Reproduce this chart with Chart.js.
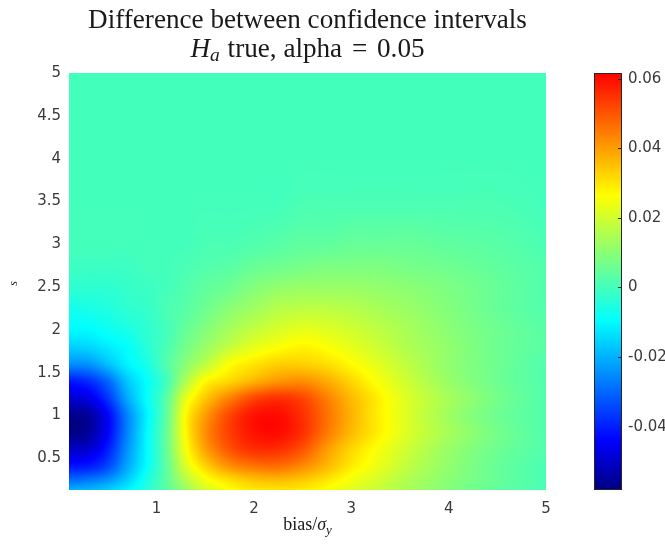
<!DOCTYPE html>
<html>
<head>
<meta charset="utf-8">
<script src="https://cdn.jsdelivr.net/npm/chart.js@4"></script>
<style>
  html, body { margin: 0; padding: 0; background: #fff; }
  #wrap { width: 665px; height: 544px; position: relative; }
</style>
</head>
<body>
<div id="wrap"><canvas id="chart"></canvas></div>
<script>
// grid columns (bias / sigma_y) and rows (s)
const biasValues = [0.1, 0.3, 0.5, 0.7, 0.9, 1.1, 1.3, 1.5, 1.75, 2.0, 2.25, 2.5, 2.75, 3.0, 3.3, 3.6, 4.0, 4.5, 5.0];
const sValues = [0.13, 0.25, 0.4, 0.6, 0.8, 1.0, 1.2, 1.4, 1.6, 1.8, 2.0, 2.25, 2.5, 2.75, 3.0, 3.5, 4.0, 5.0];

// difference between the intervals, one row per s value (bottom to top)
const diffRows = [
  [-0.020,-0.019,-0.016,-0.011,-0.004,0.003,0.012,0.020,0.026,0.029,0.030,0.029,0.026,0.022,0.018,0.014,0.009,0.004,0.001],
  [-0.030,-0.028,-0.024,-0.016,-0.006,0.004,0.016,0.025,0.031,0.035,0.036,0.034,0.030,0.025,0.020,0.015,0.010,0.005,0.001],
  [-0.041,-0.040,-0.034,-0.021,-0.009,0.004,0.021,0.032,0.041,0.045,0.046,0.042,0.036,0.029,0.023,0.017,0.011,0.005,0.001],
  [-0.050,-0.049,-0.040,-0.024,-0.010,0.005,0.025,0.039,0.050,0.055,0.055,0.050,0.040,0.032,0.025,0.019,0.012,0.006,0.002],
  [-0.058,-0.055,-0.044,-0.026,-0.010,0.005,0.027,0.042,0.053,0.059,0.060,0.055,0.045,0.036,0.028,0.021,0.014,0.007,0.002],
  [-0.057,-0.055,-0.044,-0.026,-0.011,0.004,0.027,0.040,0.052,0.059,0.060,0.055,0.046,0.037,0.028,0.021,0.013,0.006,0.002],
  [-0.049,-0.047,-0.037,-0.021,-0.009,0.003,0.023,0.034,0.044,0.052,0.055,0.052,0.044,0.036,0.028,0.021,0.014,0.007,0.002],
  [-0.041,-0.038,-0.030,-0.017,-0.009,0.000,0.015,0.027,0.032,0.037,0.041,0.042,0.038,0.032,0.025,0.019,0.012,0.006,0.002],
  [-0.025,-0.024,-0.018,-0.011,-0.006,0.002,0.010,0.017,0.026,0.030,0.033,0.033,0.031,0.027,0.022,0.017,0.011,0.006,0.002],
  [-0.016,-0.015,-0.012,-0.009,-0.004,0.001,0.007,0.012,0.018,0.023,0.026,0.028,0.026,0.023,0.019,0.015,0.011,0.006,0.003],
  [-0.010,-0.010,-0.008,-0.006,-0.003,0.000,0.005,0.009,0.014,0.018,0.021,0.023,0.022,0.020,0.017,0.014,0.010,0.006,0.003],
  [-0.007,-0.006,-0.005,-0.003,-0.002,0.001,0.003,0.006,0.010,0.013,0.016,0.017,0.017,0.016,0.014,0.012,0.009,0.005,0.002],
  [-0.003,-0.003,-0.003,-0.002,-0.001,0.000,0.002,0.004,0.006,0.009,0.011,0.012,0.012,0.012,0.011,0.010,0.008,0.005,0.002],
  [-0.001,-0.001,-0.001,-0.001,0.000,0.000,0.001,0.002,0.003,0.005,0.006,0.007,0.008,0.008,0.008,0.007,0.006,0.004,0.002],
  [0.000,0.000,0.000,0.000,0.000,0.000,0.000,0.001,0.001,0.002,0.003,0.004,0.004,0.005,0.005,0.005,0.004,0.003,0.001],
  [0.000,0.000,0.000,0.000,0.000,0.000,0.000,0.000,0.000,0.000,0.000,0.001,0.001,0.001,0.001,0.001,0.001,0.001,0.000],
  [0.000,0.000,0.000,0.000,0.000,0.000,0.000,0.000,0.000,0.000,0.000,0.000,0.000,0.000,0.000,0.000,0.000,0.000,0.000],
  [0.000,0.000,0.000,0.000,0.000,0.000,0.000,0.000,0.000,0.000,0.000,0.000,0.000,0.000,0.000,0.000,0.000,0.000,0.000]
];

const xTicks = [1, 2, 3, 4, 5];
const yTicks = [0.5, 1, 1.5, 2, 2.5, 3, 3.5, 4, 4.5, 5];
const colorTicks = [-0.04, -0.02, 0, 0.02, 0.04, 0.06];
const colorTickLabels = ['-0.04', '-0.02', '0', '0.02', '0.04', '0.06'];
const colorMin = -0.0582;
const colorMax = 0.0616;

// jet-like colour stops (value, rgb)
const colorStops = [
  [-0.0582, [0, 0, 130]],
  [-0.044, [0, 0, 255]],
  [-0.0095, [0, 255, 255]],
  [0.0265, [255, 255, 0]],
  [0.044, [255, 128, 0]],
  [0.0616, [255, 0, 0]]
];

function colorFor(v) {
  if (v <= colorStops[0][0]) return colorStops[0][1];
  for (let i = 1; i < colorStops.length; i++) {
    if (v <= colorStops[i][0]) {
      const [v0, c0] = colorStops[i - 1], [v1, c1] = colorStops[i];
      const t = (v - v0) / (v1 - v0);
      return [0, 1, 2].map(k => Math.round(c0[k] + (c1[k] - c0[k]) * t));
    }
  }
  return colorStops[colorStops.length - 1][1];
}

// smooth (cubic hermite) shading between grid values
function hermite(xs, vals, x) {
  const n = xs.length - 1;
  if (x <= xs[0]) return vals[0];
  if (x >= xs[n]) return vals[n];
  let i = 0;
  while (xs[i + 1] < x) i++;
  const slope = (k) => {
    if (k === 0) return (vals[1] - vals[0]) / (xs[1] - xs[0]);
    if (k === n) return (vals[n] - vals[n - 1]) / (xs[n] - xs[n - 1]);
    return (vals[k + 1] - vals[k - 1]) / (xs[k + 1] - xs[k - 1]);
  };
  const h = xs[i + 1] - xs[i];
  const t = (x - xs[i]) / h, t2 = t * t, t3 = t2 * t;
  return (2 * t3 - 3 * t2 + 1) * vals[i] + (t3 - 2 * t2 + t) * h * slope(i)
    + (-2 * t3 + 3 * t2) * vals[i + 1] + (t3 - t2) * h * slope(i + 1);
}

const heatmapPlugin = {
  id: 'heatmap',
  beforeDatasetsDraw(chart) {
    const { ctx, chartArea: a, scales: { x, y } } = chart;
    const w = Math.round(a.right - a.left), h = Math.round(a.bottom - a.top);
    const off = document.createElement('canvas');
    off.width = w; off.height = h;
    const octx = off.getContext('2d');
    const img = octx.createImageData(w, h);
    const rowVals = sValues.map(() => 0);
    for (let i = 0; i < w; i++) {
      const bv = x.getValueForPixel(a.left + i + 0.5);
      for (let r = 0; r < sValues.length; r++) rowVals[r] = hermite(biasValues, diffRows[r], bv);
      for (let j = 0; j < h; j++) {
        const sv = y.getValueForPixel(a.top + j + 0.5);
        const c = colorFor(hermite(sValues, rowVals, sv));
        const k = (j * w + i) * 4;
        img.data[k] = c[0]; img.data[k + 1] = c[1]; img.data[k + 2] = c[2]; img.data[k + 3] = 255;
      }
    }
    octx.putImageData(img, 0, 0);
    ctx.drawImage(off, a.left, a.top, a.right - a.left, a.bottom - a.top);
  }
};

const tickFont = { family: '"DejaVu Sans", sans-serif', size: 15 };
const tickColor = '#3a3a3a';

const colorbarPlugin = {
  id: 'colorbar',
  afterDraw(chart) {
    const { ctx, chartArea: a } = chart;
    const c = chart.scales.c;
    const left = a.right + 48, width = 27;
    for (let py = Math.floor(c.top); py < Math.ceil(c.bottom); py++) {
      const col = colorFor(c.getValueForPixel(py + 0.5));
      ctx.fillStyle = `rgb(${col[0]},${col[1]},${col[2]})`;
      ctx.fillRect(left, py, width, 1);
    }
    ctx.strokeStyle = '#262626';
    ctx.lineWidth = 1;
    ctx.strokeRect(left + 0.5, Math.round(c.top) + 0.5, width, Math.round(c.bottom - c.top) - 1);
    ctx.font = `${tickFont.size}px ${tickFont.family}`;
    ctx.fillStyle = tickColor;
    ctx.textAlign = 'left';
    ctx.textBaseline = 'middle';
    colorTicks.forEach((t, idx) => {
      const py = Math.round(c.getPixelForValue(t)) + 0.5;
      ctx.beginPath();
      ctx.moveTo(left + width - 3, py);
      ctx.lineTo(left + width, py);
      ctx.stroke();
      ctx.fillText(colorTickLabels[idx], left + width + 7, py);
    });
  }
};

function drawParts(ctx, parts, cx, baseline) {
  let total = 0;
  for (const p of parts) { ctx.font = p.font; p.w = ctx.measureText(p.text).width + (p.gap || 0); total += p.w; }
  let x = cx - total / 2;
  for (const p of parts) {
    ctx.font = p.font;
    ctx.fillText(p.text, x, baseline + (p.dy || 0));
    x += p.w;
  }
}

const labelsPlugin = {
  id: 'labels',
  afterDraw(chart) {
    const { ctx, chartArea: a } = chart;
    const cx = (a.left + a.right) / 2;
    ctx.save();
    ctx.fillStyle = '#1a1a1a';
    ctx.textAlign = 'left';
    ctx.textBaseline = 'alphabetic';
    const serif = '"Liberation Serif", serif';

    // title, line 1 fitted to the reference width
    const line1 = 'Difference between confidence intervals';
    ctx.font = `20px ${serif}`;
    const size1 = 20 * 439 / ctx.measureText(line1).width;
    drawParts(ctx, [{ text: line1, font: `${size1}px ${serif}` }], cx, 28);

    drawParts(ctx, [
      { text: 'H', font: `italic ${size1}px ${serif}` },
      { text: 'a', font: `italic ${size1 * 0.72}px ${serif}`, dy: 4, gap: 1 },
      { text: ' true, alpha ', font: `${size1}px ${serif}`, gap: 3 },
      { text: '=', font: `${size1}px ${serif}`, gap: 3 },
      { text: ' 0.05', font: `${size1}px ${serif}` }
    ], cx, 57);

    // x axis title
    drawParts(ctx, [
      { text: 'bias/', font: `18px ${serif}` },
      { text: 'σ', font: `italic 18px ${serif}` },
      { text: 'y', font: `italic 13px ${serif}`, dy: 4 }
    ], cx, 530);

    // y axis title
    ctx.translate(17, (a.top + a.bottom) / 2 + 2);
    ctx.rotate(-Math.PI / 2);
    drawParts(ctx, [{ text: 's', font: `italic 12px ${serif}` }], 0, 0);
    ctx.restore();
  }
};

new Chart(document.getElementById('chart'), {
  type: 'scatter',
  data: { datasets: [] },
  options: {
    responsive: true,
    maintainAspectRatio: false,
    animation: false,
    layout: { padding: { top: 73, left: 0, right: 0, bottom: 0 } },
    plugins: {
      legend: { display: false },
      tooltip: { enabled: false },
      title: { display: false }
    },
    scales: {
      x: {
        type: 'linear',
        position: 'bottom',
        min: biasValues[0],
        max: biasValues[biasValues.length - 1],
        afterBuildTicks: (scale) => { scale.ticks = xTicks.map(v => ({ value: v })); },
        afterFit: (scale) => { scale.height = 54; },
        grid: { display: false, drawTicks: false },
        border: { display: false },
        ticks: { padding: 10, color: tickColor, font: tickFont, maxRotation: 0, autoSkip: false,
          callback: (v) => String(v) }
      },
      y: {
        type: 'linear',
        position: 'left',
        min: sValues[0],
        max: sValues[sValues.length - 1],
        afterBuildTicks: (scale) => { scale.ticks = yTicks.map(v => ({ value: v })); },
        afterFit: (scale) => { scale.width = 69; },
        grid: { display: false, drawTicks: false },
        border: { display: false },
        ticks: { padding: 8, color: tickColor, font: tickFont, autoSkip: false,
          callback: (v) => String(v) }
      },
      c: {
        type: 'linear',
        position: 'right',
        min: colorMin,
        max: colorMax,
        afterFit: (scale) => { scale.width = 119; },
        grid: { display: false, drawTicks: false },
        border: { display: false },
        ticks: { display: false }
      }
    }
  },
  plugins: [heatmapPlugin, colorbarPlugin, labelsPlugin]
});
</script>
</body>
</html>
